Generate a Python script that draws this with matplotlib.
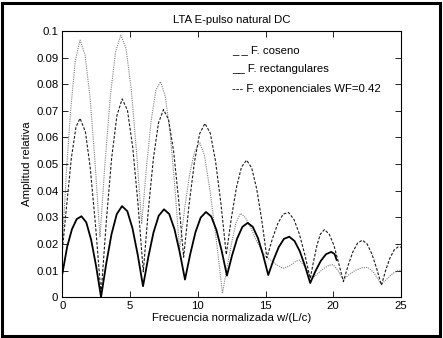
import matplotlib
matplotlib.use("Agg")
import matplotlib.pyplot as plt
from matplotlib.patches import Rectangle

plt.rcParams['font.family'] = ['Liberation Sans', 'DejaVu Sans']

# F. rectangulares (solid)
x_rect = [0, 0.35, 0.7, 1.05, 1.4, 1.76, 2.12, 2.48, 2.85,
          3.24, 3.625, 4.01, 4.4, 4.79, 5.175, 5.56, 5.95,
          6.34, 6.725, 7.11, 7.5, 7.89, 8.275, 8.66, 9.05,
          9.44, 9.825, 10.21, 10.6, 10.99, 11.375, 11.76, 12.15,
          12.53, 12.91, 13.29, 13.68, 14.06, 14.44, 14.82, 15.2,
          15.59, 15.975, 16.36, 16.75, 17.14, 17.525, 17.91, 18.3,
          18.69, 19.08, 19.46, 19.85, 20.1, 20.25]
y_rect = [0.009, 0.019, 0.0255, 0.0293, 0.0304, 0.0281, 0.0215, 0.0118, 0.0,
          0.0128, 0.0237, 0.0312, 0.0342, 0.0323, 0.0258, 0.0159, 0.0041,
          0.0150, 0.0243, 0.0306, 0.0330, 0.0312, 0.0255, 0.0169, 0.0066,
          0.0162, 0.0244, 0.0299, 0.0320, 0.0303, 0.0252, 0.0174, 0.0081,
          0.0157, 0.0221, 0.0264, 0.0279, 0.0264, 0.0222, 0.0158, 0.0083,
          0.0140, 0.0188, 0.0219, 0.0227, 0.0211, 0.0173, 0.0118, 0.0053,
          0.0098, 0.0136, 0.0161, 0.0170, 0.0162, 0.0140]

# F. exponenciales WF=0.42 (dashed)
x_exp = [0, 0.3, 0.65, 1.0, 1.3, 1.7, 2.05, 2.45, 2.85,
         3.24, 3.63, 4.02, 4.41, 4.8, 5.19, 5.58, 5.97,
         6.34, 6.715, 7.09, 7.46, 7.835, 8.21, 8.58, 8.95,
         9.34, 9.74, 10.13, 10.525, 10.92, 11.31, 11.71, 12.1,
         12.475, 12.85, 13.225, 13.6, 13.975, 14.35, 14.725, 15.1,
         15.5, 15.9, 16.3, 16.7, 17.1, 17.5, 17.9, 18.3,
         18.55, 18.8, 19.05, 19.35, 19.7, 20.05, 20.4, 20.75,
         21.1, 21.45, 21.8, 22.15, 22.5, 22.85, 23.2, 23.56,
         23.9, 24.2, 24.5, 24.8, 25.0]
y_exp = [0.018, 0.034, 0.052, 0.064, 0.0672, 0.0620, 0.0487, 0.0265, 0.001,
         0.0286, 0.0521, 0.0682, 0.0745, 0.0703, 0.0563, 0.0350, 0.0095,
         0.0325, 0.0521, 0.0654, 0.0705, 0.0668, 0.0548, 0.0366, 0.0150,
         0.0342, 0.0505, 0.0614, 0.0653, 0.0616, 0.0510, 0.0349, 0.0160,
         0.0297, 0.0412, 0.0489, 0.0515, 0.0486, 0.0406, 0.0288, 0.0148,
         0.0218, 0.0276, 0.0312, 0.0318, 0.0292, 0.0237, 0.0160, 0.0070,
         0.0135, 0.0195, 0.0237, 0.0254, 0.0237, 0.0195, 0.0128, 0.0058,
         0.0119, 0.0170, 0.0203, 0.0214, 0.0200, 0.0163, 0.0109, 0.0045,
         0.0105, 0.0148, 0.0177, 0.0189, 0.0188]

# F. coseno (grey dotted)
x_cos = [0, 0.3, 0.6, 0.95, 1.3, 1.67, 2.04, 2.4, 2.77,
         3.155, 3.54, 3.925, 4.31, 4.695, 5.08, 5.465, 5.85,
         6.2, 6.55, 6.9, 7.25, 7.6, 7.95, 8.3, 8.65,
         9.025, 9.4, 9.775, 10.15, 10.5, 10.9, 11.35, 11.82,
         12.15, 12.5, 12.82, 13.15, 13.5, 13.9, 14.3, 14.65, 15.0,
         15.4, 15.8, 16.3, 16.8, 17.2, 17.5, 17.9, 18.2, 18.5,
         18.9, 19.3, 19.7, 20.0, 20.35, 20.75, 21.1, 21.6, 22.1, 22.55,
         23.0, 23.3, 23.56, 23.9, 24.3, 24.7, 25.0]
y_cos = [0.020, 0.048, 0.070, 0.089, 0.0966, 0.0910, 0.0749, 0.0511, 0.0225,
         0.0513, 0.0757, 0.0923, 0.0985, 0.0935, 0.0782, 0.0550, 0.0275,
         0.0486, 0.0663, 0.0778, 0.0810, 0.0754, 0.0616, 0.0415, 0.0180,
         0.0333, 0.0463, 0.0550, 0.0580, 0.0530, 0.0400, 0.0220, 0.0014,
         0.0110, 0.0205, 0.0280, 0.0315, 0.0300, 0.0262, 0.0215, 0.0180, 0.0152,
         0.0138, 0.0122, 0.0108, 0.0118, 0.0133, 0.0139, 0.0115, 0.0088, 0.0072,
         0.0090, 0.0108, 0.0120, 0.0122, 0.0100, 0.0064, 0.0082, 0.0100, 0.0110, 0.0112,
         0.0092, 0.0068, 0.0048, 0.0065, 0.0085, 0.0098, 0.0101]

xticks = [0, 5, 10, 15, 20, 25]
yticks = [0, 0.01, 0.02, 0.03, 0.04, 0.05, 0.06, 0.07, 0.08, 0.09, 0.1]
ytick_labels = ['0', '0.01', '0.02', '0.03', '0.04', '0.05', '0.06', '0.07', '0.08', '0.09', '0.1']
legend_lines = ['_ _ F. coseno', '__ F. rectangulares', '--- F. exponenciales WF=0.42']

fig = plt.figure(figsize=(4.43, 3.38), dpi=100)
ax = fig.add_axes([0.141, 0.121, 0.764, 0.787])

ax.plot(x_cos, y_cos, color='0.5', lw=0.8, linestyle=(0, (1, 1)))
ax.plot(x_exp, y_exp, color='0.1', lw=0.8, linestyle=(0, (2.5, 1.5)))
ax.plot(x_rect, y_rect, color='black', lw=1.3)

ax.set_xlim(0, 25)
ax.set_ylim(0, 0.1)
ax.set_xticks(xticks)
ax.set_yticks(yticks)
ax.set_yticklabels(ytick_labels)
ax.tick_params(direction='in', length=4, width=0.6, labelsize=8.2,
               top=True, right=True, pad=3)
for sp in ax.spines.values():
    sp.set_linewidth(0.8)

ax.set_title('LTA E-pulso natural DC', fontsize=8.2, pad=6)
ax.set_xlabel('Frecuencia normalizada w/(L/c)', fontsize=8.2, labelpad=1)
ax.set_ylabel('Amplitud relativa', fontsize=8.2, labelpad=3)

for i, txt in enumerate(legend_lines):
    ax.text(0.50, 0.928 - i * 0.072, txt, transform=ax.transAxes,
            fontsize=8.2, va='center', ha='left')

# outer frame
fig.patches.append(Rectangle((0.004, 0.005), 0.99, 0.987, transform=fig.transFigure,
                             fill=False, edgecolor='black', linewidth=2.2))

fig.savefig('out.png', dpi=100)
